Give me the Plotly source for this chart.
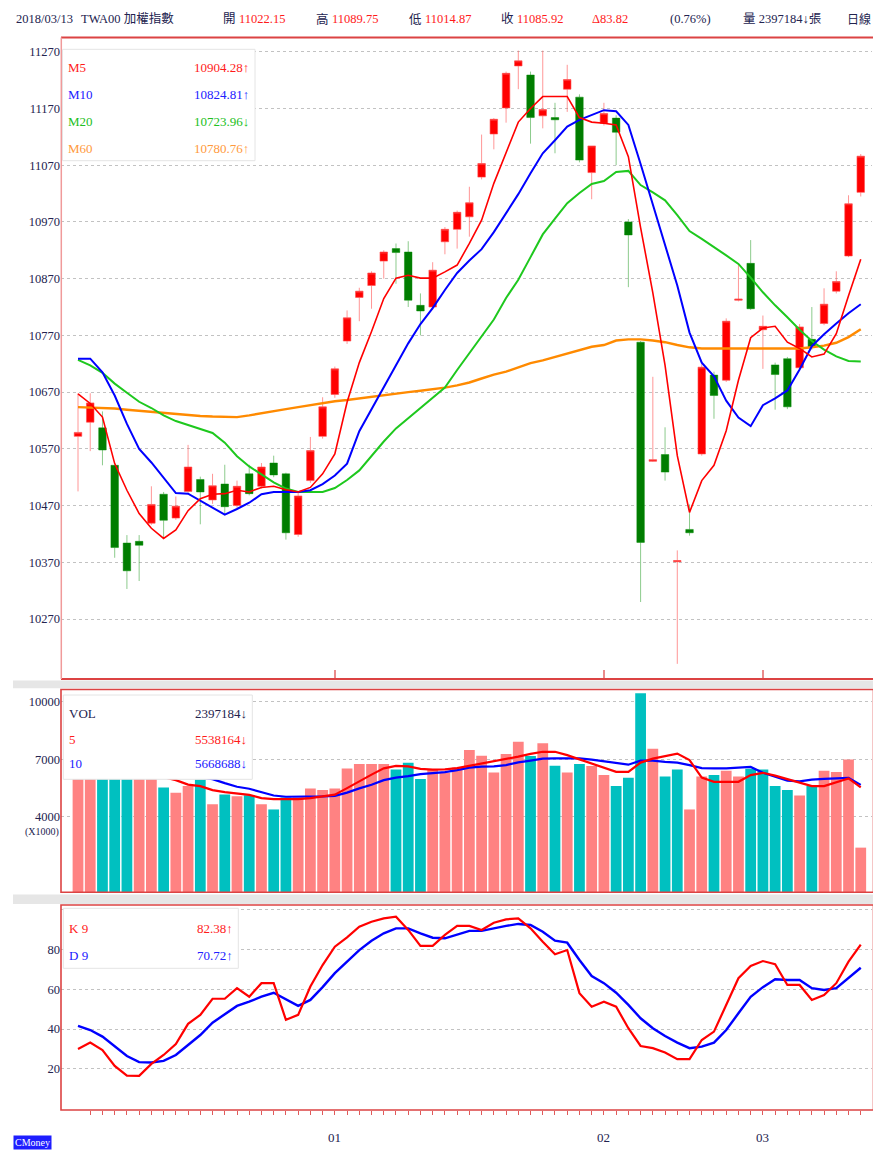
import plotly.graph_objects as go

# ---------------- data ----------------
month_ticks = [21, 43, 56]
month_labels = ["01", "02", "03"]
price_ticks = [10270, 10370, 10470, 10570, 10670, 10770, 10870, 10970, 11070, 11170, 11270]
vol_ticks = [4000, 7000, 10000]
kd_ticks = [20, 40, 60, 80, 100]
kd_tick_text = ["20", "40", "60", "80", ""]
prev_close = 10560.0

opens = [10592, 10617, 10607, 10541, 10404, 10407, 10439, 10490, 10448, 10495,
         10516, 10480, 10508, 10470, 10526, 10504, 10545, 10526, 10419, 10514,
         10592, 10666, 10760, 10837, 10858, 10901, 10923, 10917, 10823, 10820,
         10935, 10957, 10979, 11049, 11125, 11171, 11245, 11229, 11157, 11154,
         11204, 11190, 11057, 11144, 11153, 10970, 10758, 10548, 10560, 10371,
         10428, 10561, 10700, 10691, 10832, 10897, 10780, 10718, 10729, 10713,
         10763, 10791, 10848, 10910, 11022.15]
highs = [10668, 10668, 10636, 10541, 10418, 10418, 10504, 10494, 10486, 10577,
         10521, 10526, 10542, 10514, 10542, 10545, 10558, 10528, 10495, 10591,
         10661, 10715, 10814, 10854, 10883, 10920, 10932, 10936, 10844, 10899,
         10961, 10990, 11032, 11124, 11153, 11235, 11272, 11235, 11272, 11180,
         11247, 11195, 11104, 11180, 11158, 10975, 10760, 10697, 10608, 10391,
         10472, 10720, 10706, 10800, 10894, 10938, 10805, 10722, 10732, 10790,
         10820, 10853, 10883, 11017, 11089.75]
lows = [10495, 10566, 10541, 10378, 10323, 10337, 10436, 10414, 10445, 10492,
        10437, 10473, 10454, 10466, 10488, 10500, 10520, 10410, 10415, 10510,
        10588, 10660, 10755, 10795, 10817, 10870, 10861, 10820, 10770, 10815,
        10913, 10923, 10944, 11045, 11098, 11145, 11204, 11108, 11135, 11091,
        11164, 11075, 11010, 11140, 11070, 10855, 10300, 10547, 10514, 10191,
        10417, 10558, 10623, 10688, 10830, 10815, 10711, 10639, 10640, 10710,
        10745, 10788, 10844, 10908, 11014.87]
closes = [10599, 10651, 10568, 10396, 10355, 10400, 10472, 10444, 10469, 10538,
          10494, 10505, 10468, 10504, 10491, 10538, 10524, 10422, 10487, 10567,
          10644, 10711, 10801, 10848, 10880, 10917, 10916, 10832, 10813, 10885,
          10957, 10987, 11004, 11073, 11151, 11232, 11254, 11154, 11168, 11150,
          11221, 11079, 11104, 11161, 11128, 10947, 10405, 10551, 10529, 10373,
          10422, 10714, 10664, 10795, 10834, 10817, 10786, 10701, 10644, 10785,
          10749, 10825, 10865, 11002.10, 11085.92]

ma5 = [10667, 10650, 10626, 10544, 10497, 10456, 10430, 10412, 10427, 10461,
       10482, 10490, 10491, 10497, 10494, 10502, 10504, 10498, 10494, 10502,
       10526, 10561, 10652, 10722, 10777, 10835, 10871, 10876, 10871, 10871,
       10882, 10894, 10932, 10973, 11038, 11091, 11146, 11170, 11191, 11191,
       11191, 11154, 11146, 11144, 11141, 11085, 10960, 10845, 10717, 10558,
       10458, 10514, 10541, 10602, 10691, 10766, 10783, 10786, 10758, 10747,
       10732, 10737, 10773, 10840, 10904.28]
ma10 = [10729, 10729, 10705, 10664, 10614, 10570, 10546, 10520, 10492, 10491,
        10479, 10466, 10454, 10464, 10475, 10490, 10494, 10494, 10494, 10497,
        10508, 10523, 10544, 10601, 10640, 10678, 10717, 10756, 10790, 10818,
        10850, 10880, 10902, 10922, 10952, 10985, 11019, 11056, 11091, 11114,
        11138, 11150, 11158, 11167, 11165, 11141, 11072, 11000, 10929, 10858,
        10775, 10722, 10698, 10655, 10625, 10610, 10647, 10659, 10673, 10710,
        10751, 10772, 10791, 10809, 10824.81]
ma20 = [10727, 10717, 10704, 10685, 10669, 10653, 10642, 10629, 10619, 10612,
        10605, 10598, 10581, 10557, 10539, 10525, 10511, 10500, 10494, 10494,
        10494, 10501, 10515, 10532, 10558, 10583, 10606, 10624, 10643, 10661,
        10678, 10709, 10738, 10767, 10798, 10836, 10868, 10908, 10948, 10976,
        11003, 11021, 11037, 11042, 11058, 11060, 11035, 11022, 11008, 10982,
        10954, 10940, 10926, 10911, 10896, 10872, 10846, 10823, 10802, 10780,
        10760, 10745, 10733, 10725, 10723.96]
ma60 = [10643.6, 10643, 10642, 10641, 10639, 10637, 10635, 10633, 10631, 10629,
        10628, 10627, 10626, 10626, 10629, 10633, 10636.5, 10640, 10643.6, 10647,
        10651, 10654, 10656, 10659, 10662, 10665, 10668, 10670, 10672.5, 10675,
        10678, 10682, 10687, 10694, 10701, 10706, 10714, 10721, 10726, 10732,
        10738, 10744.5, 10750, 10753, 10761, 10763, 10763, 10761, 10758, 10753,
        10749, 10747, 10747, 10747, 10747, 10747, 10747, 10747, 10747, 10747,
        10749, 10752, 10757, 10767, 10780.76]

volume = [6100, 6300, 6800, 7500, 6500, 6200, 6000, 5534, 5253, 5602,
          5950, 4663, 5169, 5080, 5132, 4663, 4386, 5012, 5012, 5482,
          5394, 5482, 6526, 6750, 6750, 6750, 6473, 6818, 5967, 6437,
          6296, 6578, 7480, 7183, 6317, 7271, 7913, 7167, 7830, 6661,
          6317, 6750, 6645, 6176, 5602, 6035, 10438, 7548, 6108, 6473,
          4386, 6108, 6176, 6400, 6108, 6505, 6473, 5602, 5394, 5117,
          5602, 6400, 6333, 6995, 2397.184]
vol_ma5 = [6400, 6350, 6300, 6250, 6200, 6150, 6100, 6072, 5915, 5680,
           5602, 5393, 5289, 5200, 5148, 4976, 4924, 4924, 4924, 4976,
           5065, 5159, 5498, 5863, 6202, 6526, 6656, 6630, 6499, 6463,
           6473, 6541, 6661, 6760, 6870, 7011, 7141, 7282, 7391, 7391,
           7219, 6995, 6786, 6593, 6348, 6348, 6828, 7037, 7167, 7298,
           6958, 6045, 5826, 5826, 5826, 6176, 6296, 6150, 5967, 5759,
           5602, 5602, 5811, 6004, 5538.164]
vol_ma10 = [6300, 6250, 6250, 6200, 6200, 6200, 6150, 6150, 6100, 6100,
            6050, 5967, 5759, 5571, 5466, 5289, 5112, 5049, 5044, 5049,
            5065, 5091, 5263, 5482, 5670, 5915, 6045, 6124, 6228, 6280,
            6332, 6437, 6567, 6619, 6635, 6698, 6838, 6932, 7037, 7047,
            7047, 7047, 6985, 6891, 6802, 6719, 6932, 6932, 6865, 6828,
            6698, 6541, 6526, 6526, 6567, 6604, 6296, 6092, 5889, 5847,
            5936, 5983, 6019, 6035, 5668.688]

k9 = [30, 33.2, 29.5, 21.5, 16.6, 16.5, 22.5, 27, 32.5, 42.6,
      47.1, 55.2, 55.2, 60.5, 56.2, 63, 63, 44.6, 47.1, 61.3,
      72.1, 81.3, 86, 91.3, 93.8, 95.5, 96.3, 89.7, 81.7, 81.7,
      87.2, 91.7, 91.7, 89.7, 93.3, 95, 95.5, 90.5, 83.8, 77.5,
      79.6, 58, 51.2, 53.7, 51.2, 40.4, 31.5, 30.4, 28.2, 24.9,
      24.9, 34.5, 38.7, 52.1, 65.5, 71.6, 74.1, 72.5, 62.1, 62.1,
      54.6, 57.1, 63, 73.8, 82.38]
d9 = [41.6, 39.5, 36.2, 31.2, 26.5, 23.4, 23.2, 24, 27, 32,
      37, 43.2, 47.4, 51.6, 53.7, 56.2, 58.2, 54.9, 51.6, 54.6,
      61, 68, 73.8, 79.6, 84.3, 88, 90.5, 90.5, 88, 85.8,
      85.5, 87.5, 89.2, 89.2, 90.5, 91.7, 92.7, 92.2, 88.8, 84.3,
      83.3, 74.6, 66.6, 63, 58.2, 52.1, 45.4, 40.4, 36.5, 33.2,
      30.4, 31.2, 33.2, 39.5, 47.9, 56.2, 61, 65, 64.6, 64.6,
      60.5, 59.6, 60.5, 65.5, 70.72]

# ---------------- layout helpers ----------------
W, H = 873, 1151
ML, MR, MT, MB = 61, 1, 37, 41
PW, PH = W - ML - MR, H - MT - MB
FONT = "Liberation Serif, Noto Sans CJK TC, serif"
DARK = "#23234f"
RED = "#ff1a1a"
BLUE = "#2020ff"
GREEN = "#22c022"
ORANGE = "#ff9a3c"


def px(xp):
    return (xp - ML) / PW


def py(yp):
    return (H - MB - yp) / PH


def ann(text, xp, yp, color, size=12.5, xanchor="left", **kw):
    return dict(text=text, x=px(xp), y=py(yp), xref="paper", yref="paper",
                xanchor=xanchor, yanchor="middle", showarrow=False,
                font=dict(family=FONT, size=size, color=color), **kw)


def arrow(series):
    return "↑" if series[-1] >= series[-2] else "↓"


n = len(closes)
x = list(range(n))
xr = [-1.39, 64.92]

vol_colors = []
for i in range(n):
    pc = prev_close if i == 0 else closes[i - 1]
    vol_colors.append("#ff8282" if closes[i] >= pc else "#00c0c0")

fig = go.Figure()

# main panel
fig.add_trace(go.Candlestick(
    x=x, open=opens, high=highs, low=lows, close=closes, xaxis="x", yaxis="y",
    increasing=dict(line=dict(color="rgba(255,80,80,0.6)", width=1), fillcolor="#ff0000"),
    decreasing=dict(line=dict(color="rgba(0,140,0,0.45)", width=1), fillcolor="#007d00"),
    whiskerwidth=0, showlegend=False, hoverinfo="skip"))
for ser, col, wd in [(ma60, "#ff8a00", 2.4), (ma20, "#1ec81e", 2.0),
                     (ma10, "#0000ff", 2.0), (ma5, "#ff0000", 1.6)]:
    fig.add_trace(go.Scatter(x=x, y=ser, mode="lines", xaxis="x", yaxis="y",
                             line=dict(color=col, width=wd), showlegend=False,
                             hoverinfo="skip"))

# volume panel
fig.add_trace(go.Bar(x=x, y=volume, xaxis="x2", yaxis="y2", marker_color=vol_colors,
                     marker_line=dict(width=0), showlegend=False, hoverinfo="skip"))
fig.add_trace(go.Scatter(x=x, y=vol_ma10, mode="lines", xaxis="x2", yaxis="y2",
                         line=dict(color="#0000ff", width=2.2), showlegend=False, hoverinfo="skip"))
fig.add_trace(go.Scatter(x=x, y=vol_ma5, mode="lines", xaxis="x2", yaxis="y2",
                         line=dict(color="#ff0000", width=2.2), showlegend=False, hoverinfo="skip"))

# KD panel
fig.add_trace(go.Scatter(x=x, y=d9, mode="lines", xaxis="x3", yaxis="y3",
                         line=dict(color="#0000ff", width=2.4), showlegend=False, hoverinfo="skip"))
fig.add_trace(go.Scatter(x=x, y=k9, mode="lines", xaxis="x3", yaxis="y3",
                         line=dict(color="#ff0000", width=2.2), showlegend=False, hoverinfo="skip"))

tickfont = dict(family=FONT, size=12.5, color=DARK)
grid = dict(showgrid=True, gridcolor="#c2c2c2", griddash="dot", gridwidth=1,
            zeroline=False, showline=False, ticks="", tickfont=tickfont)

fig.update_layout(
    width=W, height=H, margin=dict(l=ML, r=MR, t=MT, b=MB),
    paper_bgcolor="white", plot_bgcolor="white", showlegend=False,
    boxgap=0.12, bargap=0.12, hovermode=False,
    font=dict(family=FONT, size=12, color=DARK),
    xaxis=dict(domain=[0, 1], anchor="y", range=xr, rangeslider=dict(visible=False),
               showgrid=False, zeroline=False, showline=False, tickmode="array",
               tickvals=month_ticks, ticks="inside", ticklen=9, tickwidth=1.5,
               tickcolor="rgba(225,90,90,0.7)", showticklabels=False),
    yaxis=dict(domain=[py(679), 1], anchor="x", range=[10164.3, 11296],
               tickmode="array", tickvals=price_ticks,
               ticktext=[str(v) for v in price_ticks], **grid),
    xaxis2=dict(domain=[0, 1], anchor="y2", range=xr, showgrid=False, zeroline=False,
                showline=False, showticklabels=False, ticks=""),
    yaxis2=dict(domain=[py(892), py(689.3)], anchor="x2", range=[85, 10647],
                tickmode="array", tickvals=vol_ticks,
                ticktext=[str(v) for v in vol_ticks], **grid),
    xaxis3=dict(domain=[0, 1], anchor="y3", range=xr, showgrid=False, zeroline=False,
                showline=False, showticklabels=False, tickmode="array",
                tickvals=list(range(1, n)), ticks="outside", ticklen=4, tickwidth=1,
                tickcolor="#e05a5a"),
    yaxis3=dict(domain=[0, py(905)], anchor="x3", range=[-0.6, 102.2],
                tickmode="array", tickvals=kd_ticks, ticktext=kd_tick_text, **grid),
)

shapes = []
# grey separators
for y0, y1 in [(680.5, 688.3), (894.5, 904.0)]:
    shapes.append(dict(type="rect", xref="paper", yref="paper", x0=px(13), x1=px(873),
                       y0=py(y1), y1=py(y0), fillcolor="#e6e6e6", line=dict(width=0),
                       layer="below"))
BORDER = "#dc4343"
# main panel frame
shapes.append(dict(type="line", xref="paper", yref="paper", x0=px(61), x1=px(873),
                   y0=py(37.5), y1=py(37.5), line=dict(color=BORDER, width=2), layer="above"))
shapes.append(dict(type="line", xref="paper", yref="paper", x0=px(61), x1=px(873),
                   y0=py(679), y1=py(679), line=dict(color=BORDER, width=2), layer="above"))
shapes.append(dict(type="line", xref="paper", yref="paper", x0=px(61.3), x1=px(61.3),
                   y0=py(679), y1=py(37.5), line=dict(color="#f09a9a", width=1.5), layer="above"))
# volume / KD frames
for top, bot in [(689.5, 892.3), (905.0, 1110.0)]:
    shapes.append(dict(type="rect", xref="paper", yref="paper", x0=px(61), x1=px(873.5),
                       y0=py(bot), y1=py(top), line=dict(color=BORDER, width=1.6),
                       fillcolor="rgba(0,0,0,0)", layer="above"))
# legend boxes
for x0, x1, y0, y1 in [(62.5, 255, 49.3, 160.7), (63.3, 252.3, 695, 779.3),
                       (63.3, 238.3, 908.3, 968.3)]:
    shapes.append(dict(type="rect", xref="paper", yref="paper", x0=px(x0), x1=px(x1),
                       y0=py(y1), y1=py(y0), fillcolor="white",
                       line=dict(color="#e4e4e4", width=1), layer="above"))

anns = []
# header
chg = closes[-1] - closes[-2]
pct = chg / closes[-2] * 100
head_y = 19
anns += [
    ann("2018/03/13", 14, head_y, DARK),
    ann("TWA00 加權指數", 79, head_y, DARK),
    ann("開", 221, head_y, DARK), ann(f"{opens[-1]:.2f}", 237, head_y, RED),
    ann("高", 314, head_y, DARK), ann(f"{highs[-1]:.2f}", 330, head_y, RED),
    ann("低", 407, head_y, DARK), ann(f"{lows[-1]:.2f}", 423, head_y, RED),
    ann("收", 499, head_y, DARK), ann(f"{closes[-1]:.2f}", 515, head_y, RED),
    ann(f"Δ{chg:.2f}", 590, head_y, RED),
    ann(f"({pct:.2f}%)", 668, head_y, DARK),
    ann(f"量 {int(round(volume[-1] * 1000))}{arrow(volume)}張", 741, head_y, DARK),
    ann("日線", 845, head_y, DARK, size=12),
]
# main legend
for (name, ser, col), yy in zip([("M5", ma5, RED), ("M10", ma10, BLUE),
                                 ("M20", ma20, GREEN), ("M60", ma60, ORANGE)],
                                [67, 94.5, 121.5, 148.5]):
    anns.append(ann(name, 66, yy, col, size=13))
    anns.append(ann(f"{ser[-1]:.2f}{arrow(ser)}", 251, yy, col, size=13, xanchor="right"))
# volume legend
for (name, ser, col), yy in zip([("VOL", volume, DARK), ("5", vol_ma5, RED),
                                 ("10", vol_ma10, BLUE)], [713.5, 739.5, 763.5]):
    anns.append(ann(name, 67, yy, col, size=13))
    anns.append(ann(f"{int(round(ser[-1] * 1000))}{arrow(ser)}", 249, yy, col,
                    size=13, xanchor="right"))
anns.append(ann("(X1000)", 42, 832, DARK, size=10, xanchor="center"))
# KD legend
for (name, ser, col), yy in zip([("K 9", k9, RED), ("D 9", d9, BLUE)], [928.5, 955]):
    anns.append(ann(name, 67, yy, col, size=13))
    anns.append(ann(f"{ser[-1]:.2f}{arrow(ser)}", 235, yy, col, size=13, xanchor="right"))
# month labels
for pos, lab in zip(month_ticks, month_labels):
    anns.append(dict(text=lab, x=pos, y=py(1137), xref="x3", yref="paper",
                     xanchor="center", yanchor="middle", showarrow=False,
                     font=dict(family=FONT, size=13, color=DARK)))
# CMoney badge
anns.append(dict(text="CMoney", x=px(13), y=py(1150), xref="paper", yref="paper",
                 xanchor="left", yanchor="bottom", showarrow=False, bgcolor="#1e1eff",
                 borderpad=1, font=dict(family=FONT, size=10, color="white")))

fig.update_layout(shapes=shapes, annotations=anns)
fig.write_html(
    "out.html",
    config={"displayModeBar": False, "staticPlot": True},
    post_script="document.body.style.margin='0';document.body.style.padding='0';"
                "document.documentElement.style.overflow='hidden';",
)
